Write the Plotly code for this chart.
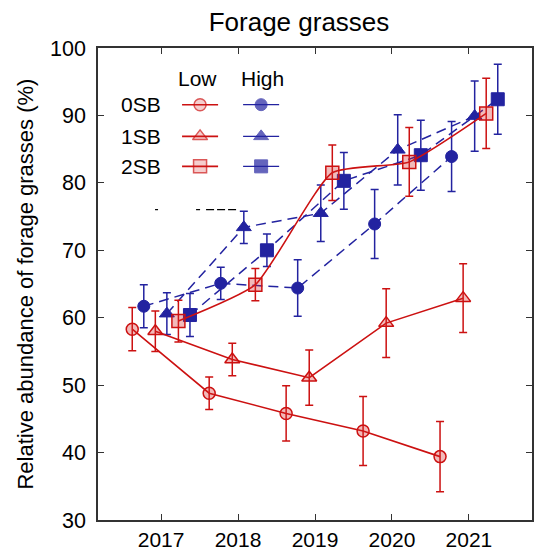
import plotly.graph_objects as go

years = [2017, 2018, 2019, 2020, 2021]
tick_labels = ["2017", "2018", "2019", "2020", "2021"]

low_0sb = [58.3, 48.8, 45.8, 43.2, 39.4]
low_0sb_err = [3.2, 2.4, 4.1, 5.1, 5.2]
high_0sb = [61.7, 65.1, 64.4, 73.9, 83.9]
high_0sb_err = [3.2, 2.4, 4.2, 5.1, 5.2]
low_1sb = [58.0, 53.8, 51.1, 59.2, 62.9]
low_1sb_err = [3.0, 2.4, 4.1, 5.1, 5.1]
high_1sb = [60.6, 73.4, 75.5, 84.9, 89.9]
high_1sb_err = [3.1, 2.4, 4.2, 5.2, 5.2]
low_2sb = [59.5, 64.9, 81.5, 83.1, 90.3]
low_2sb_err = [3.1, 2.4, 4.1, 5.1, 5.2]
high_2sb = [60.4, 70.0, 80.3, 84.1, 92.4]
high_2sb_err = [3.2, 2.4, 4.2, 5.2, 5.2]

RED = "#CC1111"
PINK = "rgba(215,40,40,0.32)"
BLUE = "#2323A0"
FONT = "Liberation Sans, Arial, sans-serif"

W, H = 534, 554
L, R, T, B = 98, 531.7, 48.3, 520.5

fig = go.Figure()

series = [
    ("0SB", "High", high_0sb, high_0sb_err, "circle", -0.225),
    ("1SB", "High", high_1sb, high_1sb_err, "triangle-up", 0.075),
    ("2SB", "High", high_2sb, high_2sb_err, "square", 0.375),
    ("0SB", "Low", low_0sb, low_0sb_err, "circle", -0.375),
    ("1SB", "Low", low_1sb, low_1sb_err, "triangle-up", -0.075),
    ("2SB", "Low", low_2sb, low_2sb_err, "square", 0.225),
]

sizes = {"circle": 12, "triangle-up": 13, "square": 13}

for sb, lvl, vals, errs, sym, off in series:
    xs = [y + off for y in years]
    if lvl == "High":
        line = dict(color=BLUE, width=1.5, dash="10px,6px")
        marker = dict(symbol=sym, size=sizes[sym], color=BLUE, line=dict(color=BLUE, width=1))
        ecol = BLUE
    else:
        line = dict(color=RED, width=1.6)
        if sb == "2SB":
            line.update(shape="spline", smoothing=0.5)
        marker = dict(symbol=sym, size=sizes[sym], color=PINK, line=dict(color=RED, width=1.5))
        ecol = RED
    fig.add_trace(go.Scatter(
        x=xs, y=vals, mode="lines+markers", line=line, marker=marker,
        error_y=dict(type="data", array=errs, visible=True, color=ecol, thickness=1.5, width=4),
        showlegend=False, hoverinfo="skip",
    ))

# legend drawn on an overlay axis (0..1 frame)
def px2x(px):
    return (px - L) / (R - L)

def py2y(py):
    return (B - py) / (B - T)

rows = [("0SB", "circle", 105), ("1SB", "triangle-up", 136.7), ("2SB", "square", 166.7)]
for label, sym, py in rows:
    yy = py2y(py)
    fig.add_trace(go.Scatter(
        x=[px2x(182), px2x(200), px2x(218)], y=[yy, yy, yy], mode="lines+markers",
        line=dict(color=RED, width=1.6),
        marker=dict(symbol=sym, size=[0, sizes[sym], 0], color=PINK, line=dict(color=RED, width=1.5)),
        xaxis="x2", yaxis="y2", showlegend=False, hoverinfo="skip"))
    fig.add_trace(go.Scatter(
        x=[px2x(243), px2x(261), px2x(279)], y=[yy, yy, yy], mode="lines+markers",
        line=dict(color=BLUE, width=1.2),
        marker=dict(symbol=sym, size=[0, sizes[sym], 0], color=BLUE, line=dict(color=BLUE, width=1)),
        xaxis="x2", yaxis="y2", showlegend=False, hoverinfo="skip"))
    fig.add_annotation(x=px2x(163), y=yy, xref="x2", yref="y2", text=label, showarrow=False,
                       xanchor="right", yanchor="middle", font=dict(size=21, color="black", family=FONT))

for txt, px in [("Low", 197), ("High", 262)]:
    fig.add_annotation(x=px2x(px), y=py2y(79), xref="x2", yref="y2", text=txt, showarrow=False,
                       xanchor="center", yanchor="middle", font=dict(size=21, color="black", family=FONT))

# small dashed remnant line
for a, b in [(155, 158), (196, 200), (206, 238)]:
    fig.add_shape(type="line", xref="x2", yref="y2", x0=px2x(a), x1=px2x(b), y0=py2y(210), y1=py2y(210),
                  line=dict(color="black", width=1.2, dash="8px,3px"))

# y axis title
fig.add_annotation(x=(26 - L) / (R - L), y=py2y(284), xref="paper", yref="paper",
                   text="Relative abundance of forage grasses (%)", textangle=-90, showarrow=False,
                   xanchor="center", yanchor="middle", font=dict(size=22, color="black", family=FONT))

axis_common = dict(showline=True, linecolor="#333333", linewidth=1.5, mirror="ticks",
                   ticks="inside", ticklen=6, tickwidth=1.3, tickcolor="#333333",
                   showgrid=False, zeroline=False, automargin=False)

fig.update_layout(
    width=W, height=H,
    margin=dict(l=L, r=W - R, t=T, b=H - B, autoexpand=False),
    plot_bgcolor="white", paper_bgcolor="white",
    title=dict(text="Forage grasses", x=299 / W, xref="container", xanchor="center",
               y=1 - 22 / H, yref="container", yanchor="middle",
               font=dict(size=26, color="black", family=FONT)),
    xaxis=dict(range=[2016.18, 2021.82], tickvals=years, ticktext=tick_labels,
               ticklabelstandoff=0, tickfont=dict(size=21, color="black", family=FONT), **axis_common),
    yaxis=dict(range=[30, 100], tickvals=[30, 40, 50, 60, 70, 80, 90, 100],
               ticklabelstandoff=6, tickfont=dict(size=21.5, color="black", family=FONT), **axis_common),
    xaxis2=dict(range=[0, 1], overlaying="x", visible=False, fixedrange=True),
    yaxis2=dict(range=[0, 1], overlaying="y", visible=False, fixedrange=True),
    showlegend=False,
)

fig.write_html("out.html")
